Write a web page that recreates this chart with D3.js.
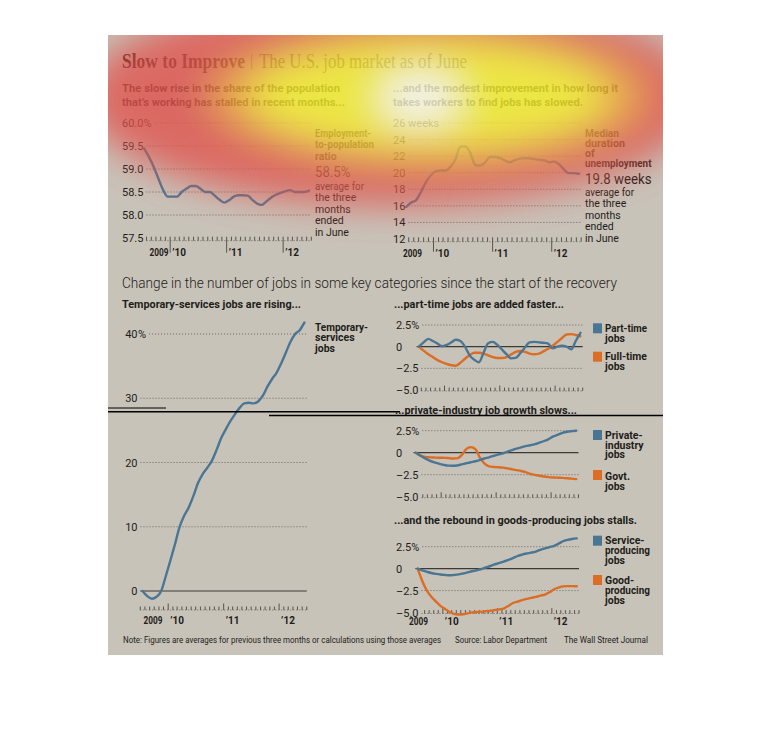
<!DOCTYPE html>
<html>
<head>
<meta charset="utf-8">
<script src="https://cdn.jsdelivr.net/npm/d3@7/dist/d3.min.js"></script>
<style>
  body { margin: 0; background: #fff; }
  text { font-family: Roboto, "Liberation Sans", sans-serif; fill: #1e1d1a; }
</style>
</head>
<body>
<svg id="chart" width="770" height="750"></svg>
<script>
// monthly three-month averages, July 2009 .. June 2012
const firstMonth = new Date(2009, 6, 1);
const endMonth = new Date(2012, 6, 1);
const months = d3.timeMonth.range(firstMonth, endMonth);
const yearLabels = ['2009', '’10', '’11', '’12'];

const empRatio = [59.45, 59.27, 59.05, 58.8, 58.55, 58.4, 58.4, 58.4, 58.5, 58.57, 58.63, 58.63,
  58.57, 58.5, 58.5, 58.42, 58.33, 58.27, 58.32, 58.4, 58.43, 58.43, 58.42, 58.33,
  58.25, 58.22, 58.3, 58.38, 58.44, 58.48, 58.52, 58.54, 58.5, 58.5, 58.5, 58.53];
const empTicks = [60, 59.5, 59, 58.5, 58, 57.5];
const empTickLabels = ['60.0%', '59.5', '59.0', '58.5', '58.0', '57.5'];

const unempWeeks = [15.86, 16.4, 16.7, 17.7, 18.9, 19.7, 20.2, 20.26, 20.26, 20.7, 21.6, 23.15,
  23.2, 22.4, 20.95, 20.85, 21.25, 21.9, 21.9, 21.75, 21.5, 21.27, 21.5, 21.7,
  21.75, 21.75, 21.65, 21.55, 21.5, 21.27, 21.35, 21.0, 20.4, 19.95, 19.95, 19.86];
const unempTicks = [26, 24, 22, 20, 18, 16, 14, 12];
const unempTickLabels = ['26 weeks', '24', '22', '20', '18', '16', '14', '12'];

const tempJobs = [0, -0.8, -1.2, -0.9, 0, 2.3, 4.8, 7.4, 9.9, 11.7, 13, 14.8,
  16.8, 18.2, 19.2, 20.3, 22, 23.8, 25.2, 26.5, 27.5, 28.5, 29.2, 29.3,
  29.2, 29.5, 30.4, 31.8, 33, 34, 35.5, 37.2, 38.8, 40, 40.6, 41.8];
const tempTicks = [40, 30, 20, 10, 0];
const tempTickLabels = ['40', '30', '20', '10', '0'];

const changeTicks = [2.5, 0, -2.5, -5];
const changeTickLabels = ['2.5%', '0', '–2.5', '–5.0'];

const partTime = [0, 0.5, 0.9, 0.65, 0.35, 0.05, 0.2, 0.5, 0.8, 0.65, 0, -1.0,
  -1.5, -1.8, -0.7, 0.4, 0.55, 0.2, -0.35, -0.9, -1.35, -1.3, -0.75, -0.1,
  0.5, 0.55, 0.5, 0.45, 0.35, -0.2, 0, 0.1, 0, -0.3, 0.65, 1.6];
const fullTime = [0, -0.45, -0.87, -1.2, -1.55, -1.8, -2.0, -2.15, -2.2, -1.85, -1.4, -1.0,
  -0.7, -0.7, -0.8, -1.0, -1.2, -1.3, -1.3, -1.2, -0.9, -0.6, -0.5, -0.6,
  -0.8, -0.87, -0.8, -0.55, -0.25, 0.1, 0.55, 1.0, 1.4, 1.45, 1.35, 1.2];

const privateJobs = [0, -0.35, -0.65, -0.9, -1.1, -1.25, -1.38, -1.47, -1.48, -1.45, -1.33, -1.2,
  -1.08, -0.97, -0.82, -0.66, -0.52, -0.35, -0.2, -0.06, 0.1, 0.3, 0.46, 0.6,
  0.74, 0.85, 0.98, 1.15, 1.33, 1.55, 1.85, 2.05, 2.25, 2.38, 2.45, 2.5];
const govtJobs = [0, -0.3, -0.48, -0.53, -0.55, -0.57, -0.58, -0.6, -0.66, -0.65, -0.3, 0.4,
  0.63, 0.4, -0.6, -1.25, -1.56, -1.62, -1.65, -1.7, -1.78, -1.88, -1.98, -2.08,
  -2.2, -2.42, -2.52, -2.62, -2.7, -2.78, -2.82, -2.84, -2.86, -2.9, -2.95, -3.0];

const serviceJobs = [0, -0.2, -0.36, -0.5, -0.6, -0.67, -0.72, -0.76, -0.72, -0.66, -0.55, -0.42,
  -0.3, -0.18, -0.05, 0.13, 0.3, 0.5, 0.65, 0.82, 1.0, 1.2, 1.44, 1.6,
  1.72, 1.82, 1.95, 2.15, 2.3, 2.45, 2.6, 2.85, 3.12, 3.28, 3.38, 3.45];
const goodsJobs = [0, -1.4, -2.5, -3.2, -3.75, -4.25, -4.6, -4.95, -5.15, -5.22, -5.2, -5.1,
  -4.98, -4.94, -4.9, -4.85, -4.8, -4.72, -4.65, -4.52, -4.25, -3.92, -3.75, -3.6,
  -3.45, -3.33, -3.22, -3.08, -2.96, -2.7, -2.35, -2.15, -2.02, -1.99, -1.99, -2.0];

const BLUE = '#4a7694', ORANGE = '#db6d25';

const svg = d3.select('#chart');
const defs = svg.append('defs');
defs.append('clipPath').attr('id', 'panelClip')
  .append('rect').attr('x', 108).attr('y', 35).attr('width', 555).attr('height', 620);
defs.append('filter').attr('id', 'heatBlur')
  .attr('x', '-50%').attr('y', '-50%').attr('width', '200%').attr('height', '200%')
  .append('feGaussianBlur').attr('stdDeviation', 18);

svg.append('rect').attr('x', 108).attr('y', 35).attr('width', 555).attr('height', 620)
  .attr('fill', '#c8c3b9');

function text(x, y, s, o = {}) {
  const t = svg.append('text').attr('x', x).attr('y', y).text(s)
    .style('font-size', (o.size || 11) + 'px')
    .style('font-weight', o.weight || 400);
  if (o.family) t.style('font-family', o.family);
  if (o.fill) t.style('fill', o.fill);
  if (o.anchor) t.attr('text-anchor', o.anchor);
  if (o.width) t.attr('textLength', o.width).attr('lengthAdjust', 'spacingAndGlyphs');
  return t;
}

// title and subtitles
const serif = '"Liberation Serif", "DejaVu Serif", serif';
text(122, 68, 'Slow to Improve', { size: 20, weight: 700, family: serif, width: 123, fill: '#2a1a14' });
text(250, 66, '|', { size: 16, family: serif, fill: '#555' });
text(259, 68, 'The U.S. job market as of June', { size: 20, family: serif, width: 208, fill: '#3a3632' });
text(122, 91.5, 'The slow rise in the share of the population', { weight: 700, width: 218 });
text(122, 105.5, 'that’s working has stalled in recent months...', { weight: 700, width: 223 });
text(393, 91.5, '...and the modest improvement in how long it', { weight: 700, width: 225 });
text(393, 105.5, 'takes workers to find jobs has slowed.', { weight: 700, width: 190 });

text(122, 288, 'Change in the number of jobs in some key categories since the start of the recovery',
  { size: 14.5, weight: 300, width: 495 });
text(122, 307.5, 'Temporary-services jobs are rising...', { weight: 700, width: 179 });
text(394, 307.5, '...part-time jobs are added faster...', { weight: 700, width: 170 });
text(395, 413.5, '...private-industry job growth slows...', { weight: 700, width: 182 });
text(394, 523.5, '...and the rebound in goods-producing jobs stalls.', { weight: 700, width: 243 });

function drawPanel(p) {
  const x = d3.scaleTime().domain([firstMonth, endMonth]).range(p.xRange);
  const y = d3.scaleLinear().domain(p.yDomain).range(p.yRange);
  const g = svg.append('g');
  let rowStart = p.xRange[0];

  p.ticks.forEach((v, i) => {
    const lab = g.append('text').attr('x', p.labelX).attr('y', y(v) + 4)
      .attr('text-anchor', p.anchor).style('font-size', '11px').text(p.tickLabels[i]);
    let right = p.anchor === 'end' ? p.labelX : p.labelX + lab.node().getComputedTextLength();
    if (i === 0 && p.unit) {
      const u = g.append('text').attr('x', p.labelX + 0.5).attr('y', y(v) + 4)
        .style('font-size', '11px').text(p.unit);
      right += u.node().getComputedTextLength() + 0.5;
    }
    const gx = Math.max(p.xRange[0], right + 3);
    if (v === p.rowValue) { rowStart = gx; return; }
    if (v === 0 && p.zero) {
      g.append('line').attr('x1', p.xRange[0]).attr('x2', p.xRange[1])
        .attr('y1', y(0)).attr('y2', y(0)).attr('stroke', '#3c3a36').attr('stroke-width', 1.2);
    } else {
      g.append('line').attr('x1', gx).attr('x2', p.xRange[1])
        .attr('y1', y(v)).attr('y2', y(v))
        .attr('stroke', '#6a665e').attr('stroke-dasharray', '1,2');
    }
  });

  // month tick row
  const rowY = p.rowY(y);
  const bounds = d3.timeMonth.range(firstMonth, d3.timeMonth.offset(endMonth, 1))
    .filter(d => x(d) >= rowStart - 0.5);
  g.append('line').attr('x1', rowStart).attr('x2', p.xRange[1]).attr('y1', rowY).attr('y2', rowY)
    .attr('stroke', '#6a665e').attr('stroke-dasharray', '1,2');
  g.selectAll('line.tk').data(bounds).join('line').attr('class', 'tk')
    .attr('x1', d => x(d)).attr('x2', d => x(d))
    .attr('y1', d => d.getMonth() === 0 ? rowY - p.majorUp : rowY - p.minorH)
    .attr('y2', d => d.getMonth() === 0 ? rowY + p.majorDown : rowY)
    .attr('stroke', '#4a4844').attr('stroke-width', 0.9);

  if (p.yearY) {
    const jans = bounds.filter(d => d.getMonth() === 0);
    g.append('text').attr('x', p.x2009).attr('y', p.yearY)
      .attr('textLength', 19).attr('lengthAdjust', 'spacingAndGlyphs')
      .style('font-size', '10px').style('font-weight', 700).text(yearLabels[0]);
    g.selectAll('text.yr').data(jans).join('text').attr('class', 'yr')
      .attr('x', d => x(d) + 2).attr('y', p.yearY)
      .style('font-size', '10px').style('font-weight', 700)
      .text((d, i) => yearLabels[i + 1]);
  }

  const line = d3.line()
    .x((d, i) => x(d3.timeDay.offset(months[i], 15)))
    .y(d => y(d))
    .curve(d3.curveMonotoneX);
  p.series.forEach(s => {
    g.append('path').datum(s.values).attr('d', line)
      .attr('fill', 'none').attr('stroke', s.color).attr('stroke-width', 2.4)
      .attr('stroke-linejoin', 'round').attr('stroke-linecap', 'round');
  });
}

drawPanel({
  xRange: [141.7, 311.3], yDomain: [57.5, 60], yRange: [238, 123],
  ticks: empTicks, tickLabels: empTickLabels, labelX: 122, anchor: 'start',
  rowValue: 57.5, rowY: y => y(57.5) + 2.7, minorH: 4, majorUp: 4, majorDown: 12,
  yearY: 256, x2009: 149.5,
  series: [{ values: empRatio, color: BLUE }]
});
drawPanel({
  xRange: [403.7, 581.2], yDomain: [12, 26], yRange: [239, 123],
  ticks: unempTicks, tickLabels: unempTickLabels, labelX: 393, anchor: 'start',
  rowValue: 12, rowY: y => y(12) + 2.7, minorH: 4.4, majorUp: 4.4, majorDown: 10,
  yearY: 256.5, x2009: 403,
  series: [{ values: unempWeeks, color: BLUE }]
});
drawPanel({
  xRange: [140.25, 306.75], yDomain: [0, 40], yRange: [591, 334],
  ticks: tempTicks, tickLabels: tempTickLabels, labelX: 137.5, anchor: 'end', unit: '%',
  zero: true, rowValue: null, rowY: () => 610, minorH: 3.5, majorUp: 6.5, majorDown: 0,
  yearY: 624, x2009: 143.5,
  series: [{ values: tempJobs, color: BLUE }]
});
drawPanel({
  xRange: [416.6, 582.7], yDomain: [-5, 2.5], yRange: [390, 325],
  ticks: changeTicks, tickLabels: changeTickLabels, labelX: 396, anchor: 'start',
  zero: true, rowValue: -5, rowY: y => y(-5) + 1, minorH: 3.4, majorUp: 5.4, majorDown: 0,
  series: [{ values: fullTime, color: ORANGE }, { values: partTime, color: BLUE }]
});
drawPanel({
  xRange: [413.5, 578.5], yDomain: [-5, 2.5], yRange: [496.7, 430.7],
  ticks: changeTicks, tickLabels: changeTickLabels, labelX: 396, anchor: 'start',
  zero: true, rowValue: -5, rowY: y => y(-5) + 1, minorH: 3.4, majorUp: 5.4, majorDown: 0,
  series: [{ values: govtJobs, color: ORANGE }, { values: privateJobs, color: BLUE }]
});
drawPanel({
  xRange: [415.4, 579], yDomain: [-5, 2.5], yRange: [612.5, 546.7],
  ticks: changeTicks, tickLabels: changeTickLabels, labelX: 396, anchor: 'start',
  zero: true, rowValue: -5, rowY: y => y(-5) + 1, minorH: 3.4, majorUp: 5.4, majorDown: 0,
  yearY: 625, x2009: 409,
  series: [{ values: goodsJobs, color: ORANGE }, { values: serviceJobs, color: BLUE }]
});

// side notes: [text, baseline, bold, size, width]
function block(x, rows) {
  rows.forEach(r => text(x, r[1], r[0], { weight: r[2] ? 700 : 400, size: r[3] || 10.5, width: r[4] }));
}
block(315, [['Employment-', 136.5, 1, 10.5, 56], ['to-population', 148, 1, 10.5, 59], ['ratio', 159.5, 1],
  ['58.5%', 177, 0, 14.5, 35.5], ['average for', 189.5, 0, 10.5, 49], ['the three', 201], ['months', 212.5],
  ['ended', 224], ['in June', 235.5]]);
block(585, [['Median', 136.5, 1, 10.5, 34], ['duration', 146.5, 1, 10.5, 40], ['of', 156.5, 1],
  ['unemployment', 166.5, 1, 10.5, 66.5],
  ['19.8 weeks', 184, 0, 15, 66.5], ['average for', 195.5, 0, 10.5, 49], ['the three', 207], ['months', 218.5],
  ['ended', 230], ['in June', 241.5]]);

block(315, [['Temporary-', 330.5, 1, 10.5, 53], ['services', 341.3, 1, 10.5], ['jobs', 352, 1, 10.5]]);

function legend(y1, lines1, y2, lines2) {
  svg.append('rect').attr('x', 593).attr('y', y1).attr('width', 9).attr('height', 10).attr('fill', BLUE);
  svg.append('rect').attr('x', 593).attr('y', y2).attr('width', 9).attr('height', 10).attr('fill', ORANGE);
  block(605, lines1.concat(lines2));
}
legend(323.3, [['Part-time', 331.5, 1, 10.5, 42], ['jobs', 341.5, 1, 10.5]],
  351.7, [['Full-time', 360, 1, 10.5, 42], ['jobs', 370, 1, 10.5]]);
legend(430, [['Private-', 439.3, 1, 10.5], ['industry', 448.8, 1, 10.5], ['jobs', 458.3, 1, 10.5]],
  470, [['Govt.', 480, 1, 10.5], ['jobs', 489.5, 1, 10.5]]);
legend(535.7, [['Service-', 544.3, 1, 10.5], ['producing', 554.3, 1, 10.5, 45], ['jobs', 564.3, 1, 10.5]],
  575, [['Good-', 584, 1, 10.5], ['producing', 594, 1, 10.5, 45], ['jobs', 604, 1, 10.5]]);

text(123, 642.5, 'Note: Figures are averages for previous three months or calculations using those averages',
  { size: 9.5, width: 318 });
text(455, 642.5, 'Source: Labor Department', { size: 9.5, width: 92 });
text(564, 642.5, 'The Wall Street Journal', { size: 9.5, width: 84 });

// attention heat overlay
const heat = svg.append('g').attr('clip-path', 'url(#panelClip)').style('opacity', 0.8);
const blob = heat.append('g').attr('filter', 'url(#heatBlur)');
blob.append('ellipse').attr('cx', 392).attr('cy', 98).attr('rx', 308).attr('ry', 108).attr('fill', '#e0524e');
blob.append('ellipse').attr('cx', 428).attr('cy', 96).attr('rx', 218).attr('ry', 66).attr('fill', '#f0a034');
blob.append('ellipse').attr('cx', 428).attr('cy', 96).attr('rx', 178).attr('ry', 52).attr('fill', '#f6f02c');
blob.append('ellipse').attr('cx', 420).attr('cy', 98).attr('rx', 38).attr('ry', 24).attr('fill', '#ffffff');

// scan glitch lines
[[108, 166, 408, 1], [108, 400, 411.7, 1.6], [269, 663, 415.5, 1.6]].forEach(l => {
  svg.append('line').attr('x1', l[0]).attr('x2', l[1]).attr('y1', l[2]).attr('y2', l[2])
    .attr('stroke', '#000').attr('stroke-width', l[3]);
});
</script>
</body>
</html>
